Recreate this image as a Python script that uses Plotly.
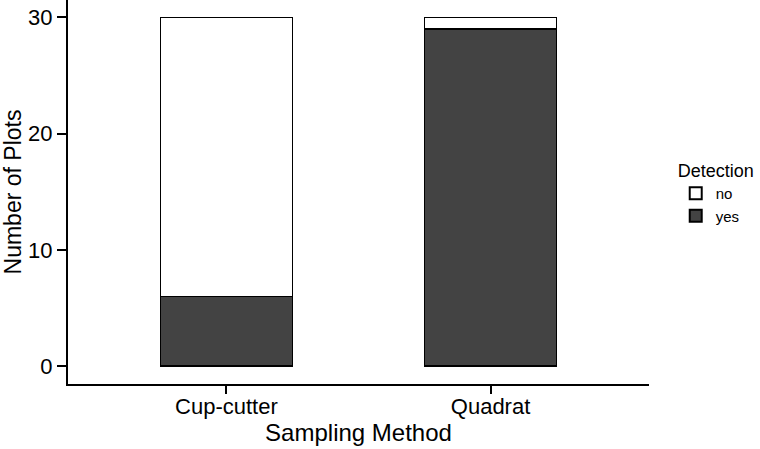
import plotly.graph_objects as go

methods = ["Cup-cutter", "Quadrat"]
yes_counts = [6, 29]
no_counts = [24, 1]

font_family = "Liberation Sans, Arial, sans-serif"

fig = go.Figure()

# dark part of the stack (detected)
fig.add_trace(go.Bar(
    x=methods, y=yes_counts, name="yes",
    marker=dict(color="#434343", line=dict(color="black", width=1.5)),
    width=0.5))

# white part of the stack (not detected)
fig.add_trace(go.Bar(
    x=methods, y=no_counts, name="no",
    marker=dict(color="white", line=dict(color="black", width=1.5)),
    width=0.5))

fig.update_layout(
    width=760, height=449,
    barmode="stack",
    plot_bgcolor="white", paper_bgcolor="white",
    margin=dict(l=68, r=111, t=0, b=65, autoexpand=False),
    font=dict(family=font_family, color="black"),
    legend=dict(
        title=dict(text="Detection", font=dict(size=18)),
        font=dict(size=15),
        traceorder="reversed",
        x=1.046, y=0.6, xanchor="left", yanchor="top",
        tracegroupgap=0, itemsizing="constant"),
)

fig.update_xaxes(
    range=[-0.6, 1.6], automargin=False,
    showline=True, linecolor="black", linewidth=2,
    ticks="outside", ticklen=8, tickwidth=1.5, tickcolor="black",
    tickfont=dict(size=22, color="black"), ticklabelstandoff=-6,
    title=dict(text="Sampling Method", font=dict(size=24), standoff=2),
    showgrid=False, zeroline=False)

fig.update_yaxes(
    range=[-1.55, 31.5], automargin=False,
    tickvals=[0, 10, 20, 30],
    showline=True, linecolor="black", linewidth=2,
    ticks="outside", ticklen=9, tickwidth=1.5, tickcolor="black",
    tickfont=dict(size=22, color="black"),
    title=dict(text="Number of Plots", font=dict(size=23), standoff=8),
    showgrid=False, zeroline=False)

# the page body has a default margin; drop it so the figure sits at the corner
fig.write_html("out.html", config={"displayModeBar": False},
               post_script="document.body.style.margin='0';")
